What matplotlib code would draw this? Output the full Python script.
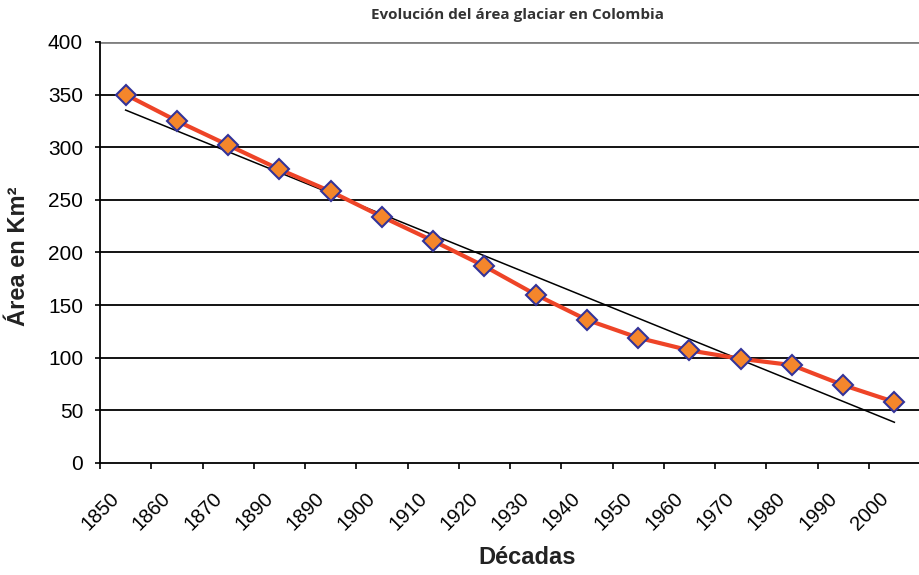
import numpy as np
import matplotlib.pyplot as plt
import matplotlib.transforms as mtransforms

decadas = ['1850', '1860', '1870', '1890', '1890', '1900', '1910', '1920',
           '1930', '1940', '1950', '1960', '1970', '1980', '1990', '2000']
area_km2 = [350, 325, 302, 279, 258, 234, 211, 187,
            160, 136, 119, 107, 99, 93, 74, 58]

plt.rcParams['font.family'] = ['Liberation Sans', 'DejaVu Sans']

fig = plt.figure(figsize=(9.2, 5.75), dpi=100)
ax = fig.add_axes([0.1087, 0.1948, 0.8913, 0.7322])

x = np.arange(len(decadas))

# linea de tendencia (ajuste lineal)
m, b = np.polyfit(x, area_km2, 1)
ax.plot(x, m * x + b, color='black', lw=1.1, zorder=3)

ax.plot(x, area_km2, color='#EE4427', lw=3, zorder=4,
        marker='D', ms=10.5, mfc='#F5862B', mec='#333399', mew=1.5)

ax.set_xlim(-0.5, len(decadas) - 0.5)
ax.set_ylim(0, 400)
ax.set_yticks(range(0, 401, 50))
ax.tick_params(axis='y', labelsize=15, length=3.6, width=1.2, pad=8.6)
for yv in range(50, 401, 50):
    ax.axhline(yv, color='black' if yv < 400 else '#808080',
               lw=1.3 if yv < 400 else 2, zorder=1)

# marcas en los bordes de cada categoria
ax.set_xticks(np.arange(len(decadas) + 1) - 0.5)
ax.set_xticklabels([])
ax.tick_params(axis='x', length=4.3, width=1.2)

# etiquetas giradas bajo el centro de cada categoria
trans = mtransforms.blended_transform_factory(ax.transData, ax.transAxes)
trans = trans + mtransforms.ScaledTranslation(-0.16, -0.26, fig.dpi_scale_trans)
for xi, lab in zip(x, decadas):
    ax.text(xi, 0, lab, transform=trans, rotation=45, ha='right', va='top',
            rotation_mode='anchor', fontsize=14.5, clip_on=False)

for s in ['top', 'right']:
    ax.spines[s].set_visible(False)
ax.spines['left'].set_linewidth(1.3)
ax.spines['bottom'].set_linewidth(1.3)

fig.text(0.563, 0.974, 'Evolución del área glaciar en Colombia',
         ha='center', va='center', fontsize=11, fontweight='bold',
         color='#333333', family=['Open Sans', 'DejaVu Sans'])
fig.text(0.02, 0.555, 'Área en Km²', rotation=90, ha='center', va='center',
         fontsize=17, fontweight='bold', color='#222222')
fig.text(0.573, 0.03, 'Décadas', ha='center', va='center',
         fontsize=17, fontweight='bold', color='#222222')

fig.savefig('out.png', dpi=100)
